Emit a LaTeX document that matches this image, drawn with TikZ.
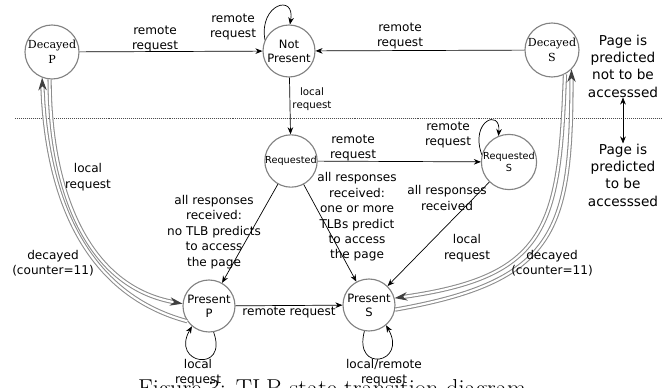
\documentclass[tikz,border=0pt]{standalone}
\usepackage{fontspec}
\setsansfont{DejaVu Sans}
\newfontfamily\decfont{DejaVu Serif}
\usetikzlibrary{arrows.meta}
\definecolor{stgray}{RGB}{130,130,130}
\definecolor{dblgray}{RGB}{140,140,140}

\begin{document}
\begin{tikzpicture}[
  every node/.style={font=\sffamily\fontsize{8.6}{11}\selectfont},
  state/.style={circle,draw=stgray,line width=0.8pt,minimum size=1.3cm,inner sep=0pt,align=center,font=\sffamily\fontsize{8.2}{10}\selectfont},
  decstate/.style={state,minimum size=1.35cm,font=\decfont\fontsize{7.9}{10.5}\selectfont},
  reqstate/.style={state,font=\sffamily\fontsize{6.9}{9}\selectfont},
  lbl/.style={align=center,inner sep=0pt},
  smalllbl/.style={lbl,font=\sffamily\fontsize{7.3}{9.5}\selectfont},
  sidelbl/.style={lbl,font=\sffamily\fontsize{9.7}{12.3}\selectfont},
  trans/.style={-{Stealth[length=5pt,width=4pt]},black,line width=0.5pt},
  slow/.style={draw=dblgray,double=white,double distance=1.5pt,line width=0.75pt,-{Stealth[length=9pt,width=6pt,color=black!75]}}
]
\clip (0,0) rectangle (16.8,9.7);

% states
\node[decstate] (dp) at (1.3,8.4) {Decayed\\P};
\node[state] (np) at (7.225,8.425) {Not\\Present};
\node[decstate] (ds) at (13.8,8.45) {Decayed\\S};
\node[reqstate] (req) at (7.275,5.675) {Requested};
\node[reqstate] (reqs) at (12.725,5.65) {Requested\\S};
\node[state] (pp) at (5.225,2.05) {Present\\P};
\node[state] (ps) at (9.225,2.075) {Present\\S};

% separator and side notes
\coordinate (sepl) at (0.375,6.75);
\coordinate (sepr) at (16.55,6.75);
\draw[densely dotted,black!70,line width=0.4pt] (sepl) -- (sepr);
\node[sidelbl] (notacc) at (15.575,8.05) {Page is\\predicted\\not to be\\accesssed};
\node[sidelbl] (acc) at (15.575,5.325) {Page is\\predicted\\to be\\accesssed};
\draw[{Stealth[length=5pt,width=4pt]}-{Stealth[length=5pt,width=4pt]},line width=0.5pt] (notacc.south) -- (acc.north);

% transitions
\draw[trans] (dp) -- (np);
\draw[trans] (ds) -- (np);
\draw[trans] (np.155) .. controls +(100:0.9) and +(80:0.8) .. (np.88);
\draw[trans] (np) -- (req);
\draw[trans] (req) -- (reqs);
\draw[trans] (reqs.165) .. controls +(110:0.9) and +(85:0.7) .. (reqs.112);
\draw[trans] (req) -- (pp);
\draw[trans] (req) -- (ps);
\draw[trans] (reqs) -- (ps);
\draw[trans] (pp) -- (ps);
\draw[trans] (pp.-80) .. controls +(-70:1.1) and +(-120:1.1) .. (pp.-130);
\draw[trans] (ps.-100) .. controls +(-105:1.1) and +(-60:1.1) .. (ps.-50);

% decay / local request
\draw[slow] (pp.215) to[out=165,in=-88] (dp.-111);
\draw[slow] (dp.-95) to[out=-90,in=170] (pp.175);
\draw[slow] (ps.-10) to[out=10,in=-90,looseness=1.4] (ds.-45);
\draw[slow] (ds.-62) to[out=-92,in=8,looseness=1.4] (ps.15);

% labels
\node[lbl] (lbldpnp) at (3.875,8.725) {remote\\request};
\node[lbl] (lblnploop) at (5.825,9.025) {remote\\request};
\node[lbl] (lbldsnp) at (10.0,8.8) {remote\\request};
\node[smalllbl] (lblnpreq) at (7.8,7.225) {local\\request};
\node[lbl] (lblreqreqs) at (8.825,6.0) {remote\\request};
\node[lbl] (lblreqsloop) at (11.2,6.325) {remote\\request};
\node[lbl] (lblreqsps) at (11.175,4.75) {all responses\\received};
\node[lbl] (lbllocs) at (11.675,3.5) {local\\request};
\node[lbl] (lbldecs) at (13.8,3.125) {decayed\\(counter=11)};
\node[lbl] (lblreqps) at (8.925,4.275) {all responses\\received:\\one or more\\TLBs predict\\to access\\the page};
\node[lbl] (lblreqpp) at (5.35,3.9) {all responses\\received:\\no TLB predicts\\to access\\the page};
\node[lbl] (lbllocp) at (2.2,5.275) {local\\request};
\node[lbl] (lbldecp) at (1.325,3.125) {decayed\\(counter=11)};
\node[lbl] (lblppps) at (7.225,1.875) {remote request};
\node[lbl] (lblpploop) at (4.95,0.39) {local\\request};
\node[lbl] (lblpsloop) at (9.6,0.39) {local/remote\\request};

% caption
\node[font=\rmfamily\fontsize{17.4}{20}\selectfont,anchor=base,inner sep=0pt] (cap) at (8.3,-0.225) {Figure 3: TLB state transition diagram};
\end{tikzpicture}
\end{document}
